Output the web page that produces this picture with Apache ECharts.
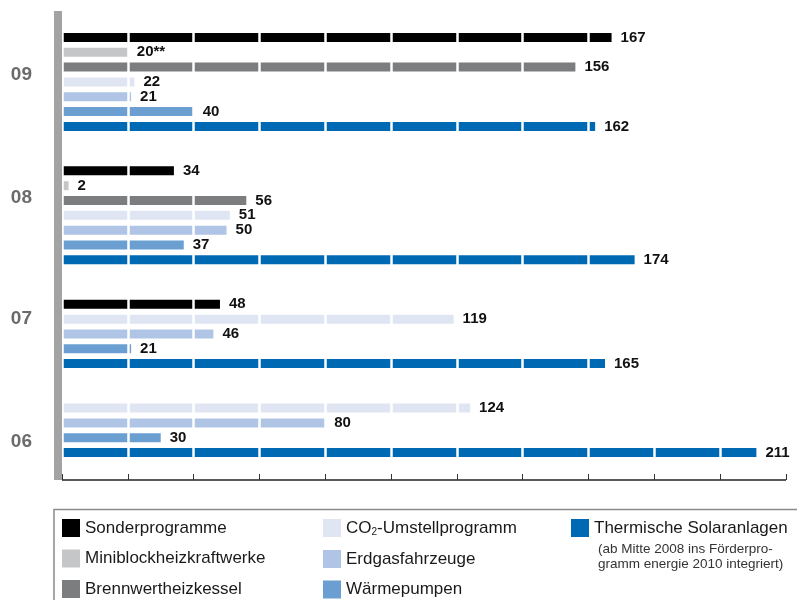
<!DOCTYPE html>
<html>
<head>
<meta charset="utf-8">
<script src="https://cdn.jsdelivr.net/npm/echarts@6/dist/echarts.min.js"></script>
<style>html,body{margin:0;padding:0;background:#fff}#c{width:797px;height:600px}</style>
</head>
<body>
<div id="c"></div>
<script>
const years = ['09', '08', '07', '06'];
const seriesNames = ['Sonderprogramme', 'Miniblockheizkraftwerke', 'Brennwertheizkessel',
  'CO2-Umstellprogramm', 'Erdgasfahrzeuge', 'Wärmepumpen', 'Thermische Solaranlagen'];
const sonder = [167, 34, 48, null];
const mini = [20, 2, null, null];
const brenn = [156, 56, null, null];
const co2 = [22, 51, 119, 124];
const erdgas = [21, 50, 46, 80];
const waerme = [40, 37, 21, 30];
const thermo = [162, 174, 165, 211];
const miniSuffix = ['**', '', '', ''];
const noteText = '(ab Mitte 2008 ins Förderpro-\ngramm energie 2010 integriert)';

const seriesValues = [sonder, mini, brenn, co2, erdgas, waerme, thermo];
const colors = ['#000000', '#c5c6c7', '#7c7d7f', '#dfe5f2', '#b0c5e5', '#6b9fd1', '#0069b4'];

// build rows (one category per bar, 2 empty rows between years)
const rows = [];
const groupStart = [];
years.forEach((y, yi) => {
  if (yi > 0) { rows.push(null); rows.push(null); }
  groupStart.push(rows.length);
  seriesValues.forEach((vals, si) => {
    if (vals[yi] != null) rows.push({ yi: yi, si: si });
  });
});
const categories = rows.map((r, i) => 'r' + i);
const yearRowOffset = [2, 2, 1, 2];
const yearRow = years.map((y, yi) => groupStart[yi] + yearRowOffset[yi]);

function seriesData(si) {
  return rows.map(r => (r && r.si === si) ? seriesValues[si][r.yi] : '-');
}

// bar series (below the white grid lines)
const barSeries = seriesValues.map((vals, si) => ({
  name: seriesNames[si],
  type: 'bar',
  xAxisIndex: 0, yAxisIndex: 0,
  barWidth: 9,
  barGap: '-100%',
  z: 2,
  itemStyle: { color: colors[si] },
  data: seriesData(si)
}));
// label-only overlays (above the white grid lines)
const labelSeries = seriesValues.map((vals, si) => ({
  name: 'lbl' + si,
  type: 'bar',
  xAxisIndex: 0, yAxisIndex: 0,
  barWidth: 9,
  barGap: '-100%',
  z: 10,
  silent: true,
  itemStyle: { color: 'rgba(0,0,0,0)' },
  data: seriesData(si),
  label: {
    show: true, position: 'right', distance: 9,
    fontFamily: 'Liberation Sans', fontWeight: 'bold', fontSize: 15, color: '#111',
    formatter: p => p.value + (si === 1 ? miniSuffix[rows[p.dataIndex].yi] : '')
  }
}));

const yearRich = {};
const yearPad = [[16, 0, 0, 0], [0, 0, 6, 0], [0, 0, 0, 0], [8, 0, 0, 0]];
years.forEach((y, yi) => {
  yearRich['s' + yi] = { fontFamily: 'Liberation Sans', fontWeight: 'bold', fontSize: 19, color: '#6b6b6b', padding: yearPad[yi] };
});

const legendText = { fontFamily: 'Liberation Sans', fontSize: 17, color: '#1a1a1a',
  rich: { sub: { fontFamily: 'Liberation Sans', fontSize: 10, color: '#1a1a1a', padding: [9, 0, 0, 0] } } };
const legendBase = { orient: 'vertical', top: 519, itemWidth: 18, itemHeight: 18, itemGap: 12.5,
  padding: 0, icon: 'rect', textStyle: legendText, selectedMode: false,
  formatter: n => n === 'CO2-Umstellprogramm' ? 'CO{sub|2}-Umstellprogramm' : n };

const chart = echarts.init(document.getElementById('c'), null, { renderer: 'canvas' });
chart.setOption({
  animation: false,
  backgroundColor: '#fff',
  grid: [
    { left: 62, right: 11, top: 30, height: 430 },
    { left: 62, right: 11, top: 11, bottom: 120 }
  ],
  xAxis: [
    { gridIndex: 0, type: 'value', min: 0, max: 220, show: false },
    { gridIndex: 1, type: 'value', min: 0, max: 220, interval: 20, z: 5,
      axisLine: { show: true, onZero: false, lineStyle: { color: '#222', width: 1.5, cap: 'butt' } },
      axisTick: { show: true, inside: true, length: 6, lineStyle: { color: '#333', width: 1 } },
      axisLabel: { show: false },
      splitLine: { show: true, lineStyle: { color: '#ffffff', width: 2.5 } } }
  ],
  yAxis: [
    { gridIndex: 0, type: 'category', inverse: true, data: categories,
      axisLine: { show: false }, axisTick: { show: false }, splitLine: { show: false },
      axisLabel: { show: true, interval: 0, margin: 30, align: 'right', rich: yearRich,
        formatter: (v, idx) => { const yi = yearRow.indexOf(idx); return yi >= 0 ? '{s' + yi + '|' + years[yi] + '}' : ''; } } },
    { gridIndex: 1, type: 'value', min: 0, max: 1, z: 6, offset: 4, position: 'left',
      axisLine: { show: true, onZero: false, lineStyle: { color: '#a3a3a3', width: 8, cap: 'butt' } },
      axisTick: { show: false }, axisLabel: { show: false }, splitLine: { show: false } }
  ],
  legend: [
    Object.assign({}, legendBase, { left: 62, data: seriesNames.slice(0, 3) }),
    Object.assign({}, legendBase, { left: 323, data: seriesNames.slice(3, 6) }),
    Object.assign({}, legendBase, { left: 571, data: seriesNames.slice(6) })
  ],
  title: {
    text: noteText, left: 598, top: 542, padding: 0,
    textStyle: { fontFamily: 'Liberation Sans', fontWeight: 'normal', fontSize: 13.5, lineHeight: 15, color: '#333' }
  },
  graphic: [{
    type: 'rect', z: -1, silent: true,
    shape: { x: 54, y: 509.5, width: 800, height: 200 },
    style: { fill: 'none', stroke: '#8a8a8a', lineWidth: 1.5 }
  }],
  series: barSeries.concat(labelSeries)
});
</script>
</body>
</html>
